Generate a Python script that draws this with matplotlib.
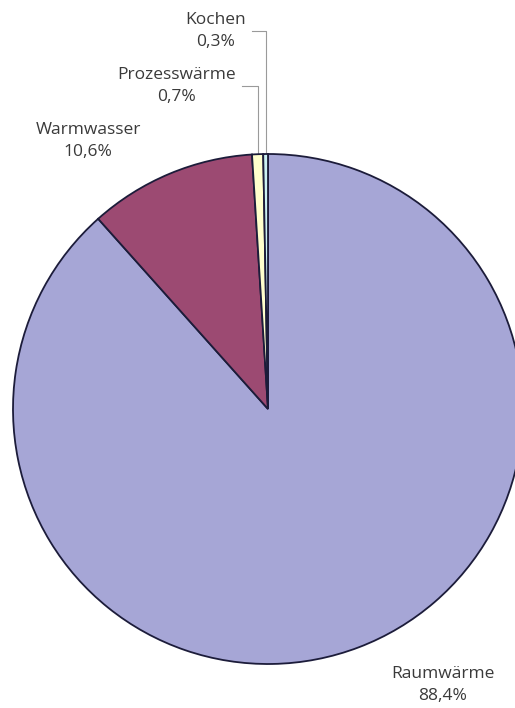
import numpy as np
import matplotlib.pyplot as plt

plt.rcParams["font.family"] = ["Open Sans", "DejaVu Sans"]

labels = ["Raumwärme", "Warmwasser", "Prozesswärme", "Kochen"]
shares = [88.4, 10.6, 0.7, 0.3]
colors = ["#a6a6d6", "#9c4a72", "#ffffcc", "#ccf2f2"]

# label anchor (text centre) in pixel coords, top-left origin
label_pos = {"Raumwärme": (443, 685), "Warmwasser": (88, 141),
             "Prozesswärme": (177, 86), "Kochen": (216, 31)}
leader = {"Prozesswärme", "Kochen"}

W, H = 515, 708
cx, cy, r = 268, 409, 255

fig = plt.figure(figsize=(W/100, H/100), dpi=100)
ax = fig.add_axes([0, 0, 1, 1])

wedges, _ = ax.pie(shares, colors=colors, startangle=90, counterclock=False,
                   center=(cx, H-cy), radius=r, frame=True,
                   wedgeprops=dict(edgecolor="#1c1c3a", linewidth=1.3))
ax.set_xlim(0, W)
ax.set_ylim(0, H)
ax.set_aspect("auto")
ax.axis("off")

fig.canvas.draw()
renderer = fig.canvas.get_renderer()

txt_color = "#3a3a3a"
for w, lab, val in zip(wedges, labels, shares):
    tx, ty = label_pos[lab]
    t = ax.text(tx, H-ty, lab + "\n" + ("%.1f" % val).replace(".", ",") + "%",
                ha="center", va="center", fontsize=12.5, color=txt_color,
                linespacing=1.45)
    if lab in leader:
        bb = t.get_window_extent(renderer)
        ang = np.deg2rad((w.theta1 + w.theta2)/2)
        px = cx + r*np.cos(ang)
        py = H-cy + r*np.sin(ang)
        ty_line = H-ty
        ax.plot([bb.x1 + 6, px, px], [ty_line, ty_line, py],
                color="#9a9a9a", linewidth=0.8, zorder=0)

plt.savefig("out.png", dpi=100)
